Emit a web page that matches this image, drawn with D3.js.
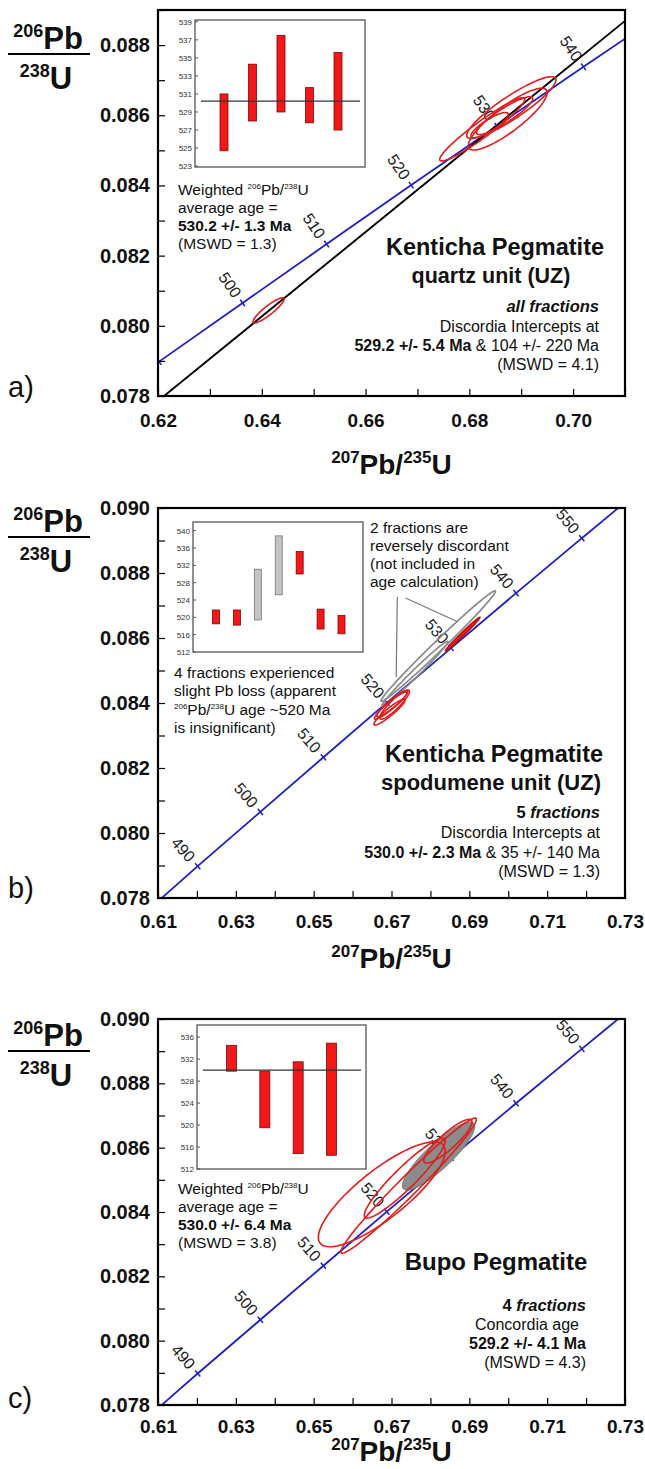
<!DOCTYPE html>
<html>
<head>
<meta charset="utf-8">
<script src="https://cdn.jsdelivr.net/npm/d3@7"></script>
<style>
  body { margin: 0; background: #fff; }
  text { font-family: "Liberation Sans", Arial, sans-serif; }
</style>
</head>
<body>
<svg width="645" height="1469"></svg>
<script>
const svg = d3.select('svg');

// concordia reference points (age Ma, 207Pb/235U, 206Pb/238U)
const concAges = [480, 490, 500, 510, 520, 530, 540, 550, 560];
const concX = [0.6044, 0.6202, 0.6363, 0.6525, 0.6688, 0.6853, 0.7020, 0.7189, 0.7359];
const concY = [0.07730, 0.07898, 0.08065, 0.08233, 0.08401, 0.08569, 0.08738, 0.08907, 0.09076];

// ---- panel a: quartz unit ----
const aXTicks = [0.62, 0.64, 0.66, 0.68, 0.70];
const aYTicks = [0.078, 0.080, 0.082, 0.084, 0.086, 0.088];
const aTickAges = [490, 500, 510, 520, 530, 540];
const aLabelAges = [500, 510, 520, 530, 540];
// error ellipses: [207/235, 206/238, half-range x, half-range y, rho]
const aRed = [
  [0.6413, 0.08044, 0.0030, 0.00036, 0.90],
  [0.6825, 0.08560, 0.0082, 0.00090, 0.95],
  [0.6881, 0.08622, 0.0086, 0.00088, 0.90],
  [0.6874, 0.08589, 0.0076, 0.00088, 0.86],
  [0.6839, 0.08572, 0.0036, 0.00036, 0.85],
  [0.6868, 0.08599, 0.0054, 0.00054, 0.90]
];
const aDiscordiaX = [0.62, 0.71];
const aDiscordiaY = [0.07786, 0.08869];
const aInsetTicks = [523, 525, 527, 529, 531, 533, 535, 537, 539];
const aBarLow = [524.7, 528.0, 529.0, 527.8, 527.0];
const aBarHigh = [531.0, 534.3, 537.5, 531.7, 535.6];
const aMean = 530.2;

// ---- panel b: spodumene unit ----
const bXTicks = [0.61, 0.63, 0.65, 0.67, 0.69, 0.71, 0.73];
const bYTicks = [0.078, 0.080, 0.082, 0.084, 0.086, 0.088, 0.090];
const bTickAges = [490, 500, 510, 520, 530, 540, 550];
const bLabelAges = [490, 500, 510, 520, 530, 540, 550];
const bGray = [
  [0.6820, 0.08575, 0.0147, 0.00170, 0.992],
  [0.6760, 0.08490, 0.0085, 0.00100, 0.988]
];
const bRed = [
  [0.6702, 0.08398, 0.0040, 0.00040, 0.93],
  [0.6698, 0.08392, 0.0042, 0.00042, 0.94],
  [0.6708, 0.08395, 0.0038, 0.00045, 0.90],
  [0.6695, 0.08372, 0.0040, 0.00040, 0.93]
];
const bRedFilled = [[0.6883, 0.08612, 0.00445, 0.00052, 0.99]];
const bLeaderFrom = [[0.6715, 0.08726], [0.6736, 0.08723]];
const bLeaderTo = [[0.6712, 0.08480], [0.6870, 0.08650]];
const bInsetTicks = [512, 516, 520, 524, 528, 532, 536, 540];
const bBarLow = [518.5, 518.2, 519.4, 525.2, 530.0, 517.3, 516.2];
const bBarHigh = [521.7, 521.7, 531.1, 538.8, 535.2, 521.9, 520.4];
const bBarGray = [false, false, true, true, false, false, false];

// ---- panel c: Bupo ----
const cXTicks = bXTicks;
const cYTicks = bYTicks;
const cTickAges = [490, 500, 510, 520, 530, 540, 550];
const cLabelAges = [490, 500, 510, 520, 530, 540, 550];
const cRed = [
  [0.6675, 0.08455, 0.0163, 0.00163, 0.82],
  [0.6744, 0.08482, 0.0174, 0.00210, 0.98],
  [0.6734, 0.08505, 0.0104, 0.00124, 0.93],
  [0.6845, 0.08620, 0.0062, 0.00068, 0.88]
];
const cGray = [[0.6821, 0.08574, 0.0093, 0.00106, 0.87]];
const cInsetTicks = [512, 516, 520, 524, 528, 532, 536];
const cBarLow = [529.8, 519.5, 514.8, 514.5];
const cBarHigh = [534.5, 529.8, 531.5, 534.9];
const cMean = 530.0;

const plotLeft = 158, plotRight = 625;
const BLUE = '#1e1ec8', RED = '#e21c1c';

// closed error ellipse path through the scales
function ellipsePath(e, x, y) {
  const [cx, cy, sx, sy, r] = e;
  const k = Math.sqrt(1 - r * r);
  const pts = d3.range(0, 121).map(i => {
    const t = i / 120 * 2 * Math.PI;
    return [x(cx + sx * Math.cos(t)), y(cy + sy * (r * Math.cos(t) + k * Math.sin(t)))];
  });
  return d3.line()(pts) + 'Z';
}

// text with bold/italic/superscript pieces
function rich(parent, x, y, parts, size, anchor) {
  const t = parent.append('text').attr('x', x).attr('y', y)
    .attr('font-size', size).attr('text-anchor', anchor || 'start').attr('fill', '#111');
  let prevUp = 0;
  parts.forEach(p => {
    const up = p.up || 0;
    const s = t.append('tspan').text(p.t).attr('dy', prevUp - up);
    if (p.b) s.attr('font-weight', 'bold');
    if (p.i) s.attr('font-style', 'italic');
    if (p.fs) s.attr('font-size', p.fs);
    prevUp = up;
  });
  return t;
}

function drawPanel(p) {
  const g = svg.append('g');
  const x = d3.scaleLinear().domain(p.xDomain).range([plotLeft, plotRight]);
  const y = d3.scaleLinear().domain(p.yDomain).range([p.bottom, p.top]);

  svg.append('clipPath').attr('id', 'clip-' + p.id).append('rect')
    .attr('x', plotLeft).attr('y', p.top)
    .attr('width', plotRight - plotLeft).attr('height', p.bottom - p.top);
  const plot = g.append('g').attr('clip-path', `url(#clip-${p.id})`);

  // concordia
  const conc = concAges.map((a, i) => [concX[i], concY[i]]);
  plot.append('path')
    .attr('d', d3.line().x(d => x(d[0])).y(d => y(d[1])).curve(d3.curveCatmullRom)(conc))
    .attr('fill', 'none').attr('stroke', BLUE).attr('stroke-width', 1.8);

  if (p.discordiaX) {
    plot.append('path')
      .attr('d', d3.line()(p.discordiaX.map((v, i) => [x(v), y(p.discordiaY[i])])))
      .attr('stroke', '#000').attr('stroke-width', 1.9);
  }

  // age tick marks and labels
  function frame(age) {
    const i = concAges.indexOf(age);
    const px = x(concX[i]), py = y(concY[i]);
    let tx = x(concX[i + 1]) - x(concX[i - 1]), ty = y(concY[i + 1]) - y(concY[i - 1]);
    const len = Math.hypot(tx, ty);
    tx /= len; ty /= len;
    return { px, py, nx: ty, ny: -tx };
  }
  p.tickAges.forEach(a => {
    const f = frame(a);
    plot.append('line')
      .attr('x1', f.px - f.nx * 4).attr('y1', f.py - f.ny * 4)
      .attr('x2', f.px + f.nx * 4).attr('y2', f.py + f.ny * 4)
      .attr('stroke', BLUE).attr('stroke-width', 1.5);
  });
  p.labelAges.forEach(a => {
    const f = frame(a);
    const lx = f.px + f.nx * 22, ly = f.py + f.ny * 22;
    const ang = Math.atan2(-f.ny, -f.nx) * 180 / Math.PI;
    plot.append('text').text(a)
      .attr('transform', `translate(${lx},${ly}) rotate(${ang})`)
      .attr('text-anchor', 'middle').attr('dominant-baseline', 'central')
      .attr('font-size', 16).attr('fill', '#222');
  });

  (p.grayFilled || []).forEach(e => plot.append('path').attr('d', ellipsePath(e, x, y))
    .attr('fill', '#8c8c8c').attr('stroke', '#777').attr('stroke-width', 1));
  (p.gray || []).forEach(e => plot.append('path').attr('d', ellipsePath(e, x, y))
    .attr('fill', 'none').attr('stroke', '#8a8a8a').attr('stroke-width', 1.7));
  (p.redFilled || []).forEach(e => plot.append('path').attr('d', ellipsePath(e, x, y))
    .attr('fill', RED).attr('stroke', '#c01010').attr('stroke-width', 1.5));
  (p.red || []).forEach(e => plot.append('path').attr('d', ellipsePath(e, x, y))
    .attr('fill', 'none').attr('stroke', RED).attr('stroke-width', 1.6));

  (p.leaderFrom || []).forEach((s, i) => {
    const t = p.leaderTo[i];
    g.append('line').attr('x1', x(s[0])).attr('y1', y(s[1]))
      .attr('x2', x(t[0])).attr('y2', y(t[1]))
      .attr('stroke', '#777').attr('stroke-width', 1.2);
  });

  // axes, ticks pointing inward
  const xMinor = d3.range(p.xDomain[0], p.xDomain[1] + 1e-9, 0.01);
  const yMinor = d3.range(p.yDomain[0], p.yDomain[1] + 1e-9, 0.001);
  const font = '"Liberation Sans", Arial, sans-serif';
  g.append('g').attr('transform', `translate(0,${p.bottom})`)
    .call(d3.axisBottom(x).tickValues(xMinor).tickSize(-7).tickSizeOuter(0).tickFormat(''));
  g.append('g').attr('transform', `translate(${plotLeft},0)`)
    .call(d3.axisLeft(y).tickValues(yMinor).tickSize(-7).tickSizeOuter(0).tickFormat(''));
  g.append('g').attr('transform', `translate(0,${p.bottom})`)
    .call(d3.axisBottom(x).tickValues(p.xTicks).tickSize(0).tickPadding(p.xLabelPad).tickFormat(d3.format('.2f')))
    .call(a => a.selectAll('text').attr('font-size', 19).attr('font-weight', 'bold').attr('fill', '#111')
      .attr('font-family', font));
  g.append('g').attr('transform', `translate(${plotLeft},0)`)
    .call(d3.axisLeft(y).tickValues(p.yTicks).tickSize(0).tickPadding(8).tickFormat(d3.format('.3f')))
    .call(a => a.selectAll('text').attr('font-size', 20).attr('font-weight', 'bold').attr('fill', '#111')
      .attr('font-family', font));
  g.selectAll('.domain').remove();
  g.selectAll('.tick line').attr('stroke', '#000').attr('stroke-width', 1.2);

  g.append('rect').attr('x', plotLeft).attr('y', p.top)
    .attr('width', plotRight - plotLeft).attr('height', p.bottom - p.top)
    .attr('fill', 'none').attr('stroke', '#000').attr('stroke-width', 2.2);

  // inset of 206Pb/238U ages
  const box = p.inset;
  const ig = g.append('g');
  ig.append('rect').attr('x', box.x0).attr('y', box.y0)
    .attr('width', box.x1 - box.x0).attr('height', box.y1 - box.y0)
    .attr('fill', '#fff').attr('stroke', '#555').attr('stroke-width', 1.3);
  const iy = d3.scaleLinear().domain(box.domain).range([box.y1, box.y0]);
  const ix = d3.scalePoint().domain(d3.range(p.barLow.length)).range(box.bars);
  p.insetTicks.forEach(v => {
    ig.append('text').text(v).attr('x', box.x0 - 3).attr('y', iy(v) + 3)
      .attr('text-anchor', 'end').attr('font-size', 8).attr('fill', '#333');
    ig.append('line').attr('x1', box.x0).attr('x2', box.x0 + 3)
      .attr('y1', iy(v)).attr('y2', iy(v)).attr('stroke', '#555');
  });
  p.barLow.forEach((lo, i) => {
    const gray = p.barGray && p.barGray[i];
    ig.append('rect').attr('x', ix(i) - box.barW / 2).attr('width', box.barW)
      .attr('y', iy(p.barHigh[i])).attr('height', iy(lo) - iy(p.barHigh[i]))
      .attr('fill', gray ? '#c4c4c4' : '#f01818')
      .attr('stroke', gray ? '#777' : '#8a0000').attr('stroke-width', 0.8);
  });
  if (p.mean !== undefined) {
    ig.append('line').attr('x1', box.x0 + 6).attr('x2', box.x1 - 5)
      .attr('y1', iy(p.mean)).attr('y2', iy(p.mean))
      .attr('stroke', '#333').attr('stroke-width', 1.3);
  }

  // axis titles and panel letter
  const L = p.fracLine;
  rich(g, 48, L - 5, [{ t: '206', fs: 18, up: 12 }, { t: 'Pb' }], 31, 'middle').attr('font-weight', 'bold');
  g.append('line').attr('x1', 8).attr('x2', 90).attr('y1', L).attr('y2', L)
    .attr('stroke', '#000').attr('stroke-width', 1.9);
  rich(g, 46, L + 35, [{ t: '238', fs: 18, up: 12 }, { t: 'U' }], 31, 'middle').attr('font-weight', 'bold');
  rich(g, (plotLeft + plotRight) / 2, p.titleY,
    [{ t: '207', fs: 17, up: 11 }, { t: 'Pb/' }, { t: '235', fs: 17, up: 11 }, { t: 'U' }], 28, 'middle')
    .attr('font-weight', 'bold');
  g.append('text').text(p.letter).attr('x', 8).attr('y', p.letterY)
    .attr('font-size', 29).attr('fill', '#111');

  p.notes.forEach(n => rich(g, n.x, n.y, n.parts, n.size, n.anchor));
}

const sup = v => ({ t: v, fs: 8, up: 6 });

drawPanel({
  id: 'a', xDomain: [0.62, 0.71], yDomain: [0.078, 0.089], top: 10, bottom: 396,
  xTicks: aXTicks, yTicks: aYTicks, xLabelPad: 18,
  tickAges: aTickAges, labelAges: aLabelAges, red: aRed,
  discordiaX: aDiscordiaX, discordiaY: aDiscordiaY,
  inset: { x0: 195, x1: 365, y0: 20, y1: 167, domain: [522.9, 539.2], bars: [224, 338], barW: 8 },
  insetTicks: aInsetTicks, barLow: aBarLow, barHigh: aBarHigh, mean: aMean,
  fracLine: 54, titleY: 474, letter: 'a)', letterY: 397,
  notes: [
    { x: 178, y: 195, size: 15.5, parts: [{ t: 'Weighted ' }, sup('206'), { t: 'Pb/' }, sup('238'), { t: 'U' }] },
    { x: 178, y: 213, size: 15.5, parts: [{ t: 'average age =' }] },
    { x: 178, y: 231, size: 15.5, parts: [{ t: '530.2 +/- 1.3 Ma', b: true }] },
    { x: 178, y: 249, size: 15.5, parts: [{ t: '(MSWD = 1.3)' }] },
    { x: 495, y: 255, size: 23.5, anchor: 'middle', parts: [{ t: 'Kenticha Pegmatite', b: true }] },
    { x: 491, y: 283, size: 21.5, anchor: 'middle', parts: [{ t: 'quartz unit (UZ)', b: true }] },
    { x: 599, y: 312, size: 16.5, anchor: 'end', parts: [{ t: 'all fractions', b: true, i: true }] },
    { x: 599, y: 332, size: 16, anchor: 'end', parts: [{ t: 'Discordia Intercepts at' }] },
    { x: 599, y: 351, size: 16, anchor: 'end', parts: [{ t: '529.2 +/- 5.4 Ma', b: true }, { t: ' & 104 +/- 220 Ma' }] },
    { x: 599, y: 370, size: 16, anchor: 'end', parts: [{ t: '(MSWD = 4.1)' }] }
  ]
});

drawPanel({
  id: 'b', xDomain: [0.61, 0.73], yDomain: [0.078, 0.090], top: 508, bottom: 898,
  xTicks: bXTicks, yTicks: bYTicks, xLabelPad: 17,
  tickAges: bTickAges, labelAges: bLabelAges,
  gray: bGray, red: bRed, redFilled: bRedFilled,
  leaderFrom: bLeaderFrom, leaderTo: bLeaderTo,
  inset: { x0: 193, x1: 363, y0: 522, y1: 652, domain: [512, 542], bars: [216, 341.5], barW: 7 },
  insetTicks: bInsetTicks, barLow: bBarLow, barHigh: bBarHigh, barGray: bBarGray,
  fracLine: 537, titleY: 968, letter: 'b)', letterY: 898,
  notes: [
    { x: 370, y: 533, size: 15.5, parts: [{ t: '2 fractions are' }] },
    { x: 370, y: 551, size: 15.5, parts: [{ t: 'reversely discordant' }] },
    { x: 370, y: 569, size: 15.5, parts: [{ t: '(not included in' }] },
    { x: 370, y: 587, size: 15.5, parts: [{ t: 'age calculation)' }] },
    { x: 174, y: 678, size: 15.5, parts: [{ t: '4 fractions experienced' }] },
    { x: 174, y: 696, size: 15.5, parts: [{ t: 'slight Pb loss (apparent' }] },
    { x: 174, y: 715, size: 15.5, parts: [sup('206'), { t: 'Pb/' }, sup('238'), { t: 'U age ~520 Ma' }] },
    { x: 174, y: 733, size: 15.5, parts: [{ t: 'is insignificant)' }] },
    { x: 494, y: 762, size: 23.5, anchor: 'middle', parts: [{ t: 'Kenticha Pegmatite', b: true }] },
    { x: 491, y: 790, size: 22, anchor: 'middle', parts: [{ t: 'spodumene unit (UZ)', b: true }] },
    { x: 600, y: 818, size: 16.5, anchor: 'end', parts: [{ t: '5 ', b: true }, { t: 'fractions', b: true, i: true }] },
    { x: 600, y: 838, size: 16, anchor: 'end', parts: [{ t: 'Discordia Intercepts at' }] },
    { x: 600, y: 858, size: 16, anchor: 'end', parts: [{ t: '530.0 +/- 2.3 Ma', b: true }, { t: ' & 35 +/- 140 Ma' }] },
    { x: 600, y: 877, size: 16, anchor: 'end', parts: [{ t: '(MSWD = 1.3)' }] }
  ]
});

drawPanel({
  id: 'c', xDomain: [0.61, 0.73], yDomain: [0.078, 0.090], top: 1019, bottom: 1405,
  xTicks: cXTicks, yTicks: cYTicks, xLabelPad: 15,
  tickAges: cTickAges, labelAges: cLabelAges,
  grayFilled: cGray, red: cRed,
  inset: { x0: 197, x1: 366, y0: 1025, y1: 1169, domain: [512, 538.2], bars: [231.5, 331.5], barW: 10 },
  insetTicks: cInsetTicks, barLow: cBarLow, barHigh: cBarHigh, mean: cMean,
  fracLine: 1051, titleY: 1461, letter: 'c)', letterY: 1408,
  notes: [
    { x: 178, y: 1194, size: 15.5, parts: [{ t: 'Weighted ' }, sup('206'), { t: 'Pb/' }, sup('238'), { t: 'U' }] },
    { x: 178, y: 1212, size: 15.5, parts: [{ t: 'average age =' }] },
    { x: 178, y: 1230, size: 15.5, parts: [{ t: '530.0 +/- 6.4 Ma', b: true }] },
    { x: 178, y: 1248, size: 15.5, parts: [{ t: '(MSWD = 3.8)' }] },
    { x: 496, y: 1270, size: 24, anchor: 'middle', parts: [{ t: 'Bupo Pegmatite', b: true }] },
    { x: 586, y: 1311, size: 16.5, anchor: 'end', parts: [{ t: '4 ', b: true }, { t: 'fractions', b: true, i: true }] },
    { x: 579, y: 1330, size: 16, anchor: 'end', parts: [{ t: 'Concordia age' }] },
    { x: 586, y: 1349, size: 16, anchor: 'end', parts: [{ t: '529.2 +/- 4.1 Ma', b: true }] },
    { x: 586, y: 1368, size: 16, anchor: 'end', parts: [{ t: '(MSWD = 4.3)' }] }
  ]
});
</script>
</body>
</html>
